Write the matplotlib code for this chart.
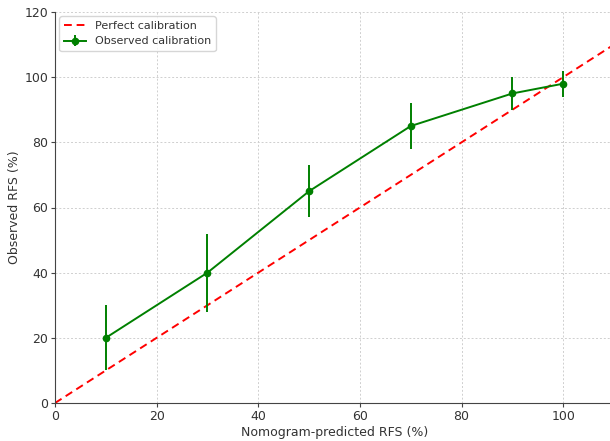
import numpy as np
import matplotlib
matplotlib.use('Agg')
import matplotlib.pyplot as plt

# calibration data
predicted = [10, 30, 50, 70, 90, 100]
observed = [20, 40, 65, 85, 95, 98]
err = [10, 12, 8, 7, 5, 4]

perfect_x = [0, 110]
perfect_y = [0, 110]

plt.rcParams['font.size'] = 9
plt.rcParams['text.color'] = '#333333'
plt.rcParams['axes.labelcolor'] = '#333333'

fig = plt.figure(figsize=(6.1, 4.41), dpi=100)
ax = fig.add_axes([55/610, 38/441, 559/610, 391/441])

ax.plot(perfect_x, perfect_y, '--', color='red', lw=1.4, dashes=(4, 2.5), label='Perfect calibration')
ax.errorbar(predicted, observed, yerr=err, fmt='-o', color='green', ms=4.5, lw=1.4,
            elinewidth=1.4, capsize=0, label='Observed calibration')

ax.set_xlim(0, 110)
ax.set_ylim(0, 120)
ax.set_xticks([0, 20, 40, 60, 80, 100])
ax.set_yticks([0, 20, 40, 60, 80, 100, 120])
ax.tick_params(length=3, pad=2, colors='#444444', labelcolor='#333333')
ax.set_xlabel('Nomogram-predicted RFS (%)', labelpad=2)
ax.set_ylabel('Observed RFS (%)', labelpad=2)
ax.grid(True, linestyle=(0, (2, 2)), color='#cfcfcf', lw=0.7)
ax.spines['top'].set_visible(False)
ax.spines['right'].set_visible(False)
ax.spines['left'].set_color('#444444')
ax.spines['bottom'].set_color('#444444')
ax.legend(loc='upper left', fontsize=8, borderaxespad=0.4)

fig.savefig('out.png', dpi=100)
